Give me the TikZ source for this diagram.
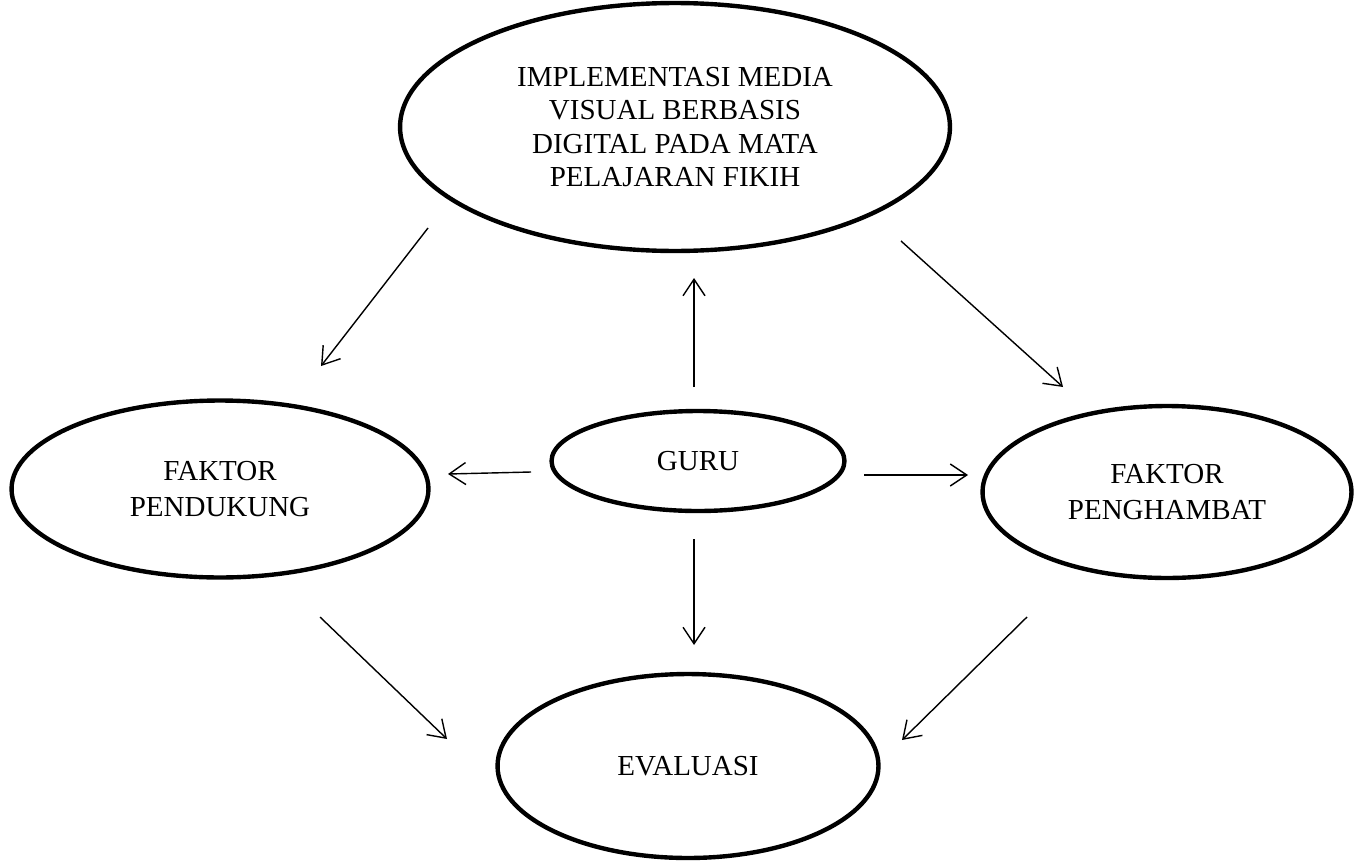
\documentclass[tikz,border=0pt]{standalone}
\usepackage{fontspec}
\setmainfont{Liberation Serif}
\usetikzlibrary{shapes.geometric,arrows.meta}

\tikzset{
  elips/.style={ellipse, draw, line width=2.5pt, align=center, inner sep=0pt,
    font=\fontsize{16.5}{20.5}\selectfont},
  panah/.style={line width=0.8pt, -{Straight Barb[length=3.3mm,width=4.4mm]}}
}

\begin{document}
\begin{tikzpicture}[x=0.02cm,y=-0.02cm]
\useasboundingbox (0,0) rectangle (1361,862);

% lingkaran
\node[elips, minimum width=11cm, minimum height=4.96cm,
  font=\fontsize{16.5}{19}\selectfont] (implementasi) at (675,127)
  {IMPLEMENTASI MEDIA\\VISUAL BERBASIS\\DIGITAL PADA MATA\\PELAJARAN FIKIH};
\node[elips, minimum width=8.34cm, minimum height=3.54cm] (pendukung) at (220,489) {FAKTOR\\PENDUKUNG};
\node[elips, minimum width=7.38cm, minimum height=3.44cm] (penghambat) at (1167,492) {FAKTOR\\PENGHAMBAT};
\node[elips, minimum width=5.86cm, minimum height=2cm] (guru) at (698,461) {GURU};
\node[elips, minimum width=7.62cm, minimum height=3.68cm] (evaluasi) at (688,766) {EVALUASI};

% ujung panah
\coordinate (a1) at (428,228);  \coordinate (b1) at (321,366);
\coordinate (a2) at (901,241);  \coordinate (b2) at (1063,387);
\coordinate (a3) at (694,387);  \coordinate (b3) at (694,278);
\coordinate (a4) at (531,472);  \coordinate (b4) at (448,474);
\coordinate (a5) at (864,475);  \coordinate (b5) at (968,475);
\coordinate (a6) at (694,539);  \coordinate (b6) at (694,645);
\coordinate (a7) at (320,617);  \coordinate (b7) at (447,739);
\coordinate (a8) at (1027,617); \coordinate (b8) at (902,740);

\foreach \i in {1,...,8}
  \draw[panah] (a\i) -- (b\i);
\end{tikzpicture}
\end{document}
